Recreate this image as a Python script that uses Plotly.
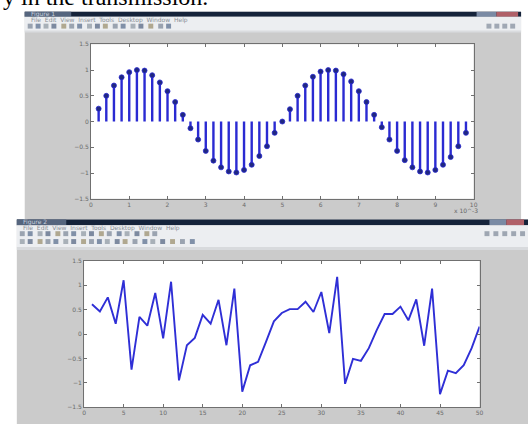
import plotly.graph_objects as go

W, H = 532, 427

# ---- data -------------------------------------------------------------
# sampled sinusoid, time axis in ms (shown with a x10^-3 exponent)
t_ms = [0.2, 0.4, 0.6, 0.8, 1.0, 1.2, 1.4, 1.6, 1.8, 2.0,
        2.2, 2.4, 2.6, 2.8, 3.0, 3.2, 3.4, 3.6, 3.8, 4.0,
        4.2, 4.4, 4.6, 4.8, 5.0, 5.2, 5.4, 5.6, 5.8, 6.0,
        6.2, 6.4, 6.6, 6.8, 7.0, 7.2, 7.4, 7.6, 7.8, 8.0,
        8.2, 8.4, 8.6, 8.8, 9.0, 9.2, 9.4, 9.6, 9.8]
sine_vals = [0.25, 0.50, 0.70, 0.86, 0.96, 1.00, 0.99, 0.90, 0.76, 0.59,
             0.38, 0.13, -0.13, -0.35, -0.57, -0.76, -0.89, -0.97, -0.99, -0.94,
             -0.84, -0.67, -0.48, -0.22, 0.00, 0.24, 0.50, 0.70, 0.87, 0.97,
             1.00, 0.99, 0.92, 0.78, 0.59, 0.38, 0.13, -0.11, -0.35, -0.57,
             -0.75, -0.89, -0.97, -0.99, -0.94, -0.84, -0.69, -0.48, -0.22]

# received / scrambled sequence
rx_index = [1, 2, 3, 4, 5, 6, 7, 8, 9, 10,
            11, 12, 13, 14, 15, 16, 17, 18, 19, 20,
            21, 22, 23, 24, 25, 26, 27, 28, 29, 30,
            31, 32, 33, 34, 35, 36, 37, 38, 39, 40,
            41, 42, 43, 44, 45, 46, 47, 48, 49, 50]
rx_vals = [0.61, 0.46, 0.75, 0.21, 1.10, -0.73, 0.35, 0.17, 0.84, -0.09,
           1.07, -0.95, -0.23, -0.08, 0.39, 0.21, 0.70, -0.23, 0.93, -1.18,
           -0.64, -0.57, -0.16, 0.26, 0.43, 0.51, 0.51, 0.66, 0.45, 0.86,
           0.02, 1.17, -1.02, -0.51, -0.55, -0.29, 0.08, 0.41, 0.41, 0.56,
           0.28, 0.71, -0.24, 0.93, -1.23, -0.75, -0.80, -0.64, -0.29, 0.15]

top_xticks = [0, 1, 2, 3, 4, 5, 6, 7, 8, 9, 10]
top_yticks = [-1.5, -1, -0.5, 0, 0.5, 1, 1.5]
bot_xticks = [0, 5, 10, 15, 20, 25, 30, 35, 40, 45, 50]
bot_yticks = [-1.5, -1, -0.5, 0, 0.5, 1, 1.5]

# ---- helpers: pixel -> paper ------------------------------------------
def px(x):
    return x / W

def py(y):
    return 1 - y / H

def rect(x0, y0, x1, y1, color):
    return dict(type="rect", xref="paper", yref="paper",
                x0=px(x0), x1=px(x1), y0=py(y1), y1=py(y0),
                fillcolor=color, line=dict(width=0), layer="below")

fig = go.Figure()

# stems built from the sample values
stem_x, stem_y = [], []
for t, v in zip(t_ms, sine_vals):
    stem_x += [t, t, None]
    stem_y += [0, v, None]

BLUE = "#2a2ad2"
fig.add_trace(go.Scatter(x=stem_x, y=stem_y, mode="lines",
                         line=dict(color=BLUE, width=2.4),
                         xaxis="x", yaxis="y", hoverinfo="skip"))
fig.add_trace(go.Scatter(x=t_ms, y=sine_vals, mode="markers",
                         marker=dict(color="#202880", size=5,
                                     line=dict(color=BLUE, width=0.8)),
                         xaxis="x", yaxis="y"))

fig.add_trace(go.Scatter(x=rx_index, y=rx_vals, mode="lines",
                         line=dict(color="#2f2fd6", width=1.9),
                         xaxis="x2", yaxis="y2"))

# ---- window chrome ----------------------------------------------------
shapes = []
GRAY = "#cbcbcb"
BAR = "#15233a"
LIGHT = "#eceef1"

# upper figure window
shapes.append(rect(23, 8, 525, 219, GRAY))
shapes.append(rect(23, 8, 525, 13, BAR))
shapes.append(rect(23, 8, 70, 13, "#55657e"))
shapes.append(rect(480, 8, 500, 13, "#7a8aa4"))
shapes.append(rect(500, 8, 522, 13, "#b06068"))
shapes.append(rect(23, 13, 525, 28, LIGHT))
shapes.append(rect(23, 27, 525, 29, "#dadcdf"))

# lower figure window
shapes.append(rect(15, 219, 532, 427, GRAY))
shapes.append(rect(15, 219, 532, 225, BAR))
shapes.append(rect(15, 219, 65, 225, "#55657e"))
shapes.append(rect(493, 219, 510, 225, "#7a8aa4"))
shapes.append(rect(510, 219, 528, 225, "#b06068"))
shapes.append(rect(15, 225, 532, 248, LIGHT))
shapes.append(rect(15, 247, 532, 250, "#d8dadd"))

# toolbar icons (small faint glyph blocks)
icon_cols = ["#9aa3b0", "#8090a8", "#a8b0b8", "#7d8aa0", "#b0a890"]
top_icons = [26, 34, 42, 50, 60, 68, 76, 86, 94, 102, 112, 120, 130, 138, 148, 158, 166]
for i, xi in enumerate(top_icons):
    shapes.append(rect(xi, 20, xi + 5, 25, icon_cols[i % 5]))
for xi in [490, 498, 506, 514]:
    shapes.append(rect(xi, 20, xi + 5, 25, "#a0a8b4"))
bot_icons1 = [18, 26, 36, 44, 54, 62, 70, 80, 88, 98, 106, 116, 124, 134, 144, 152]
for i, xi in enumerate(bot_icons1):
    shapes.append(rect(xi, 231, xi + 5, 236, icon_cols[i % 5]))
bot_icons2 = [18, 26, 36, 44, 52, 62, 70, 80, 88, 96, 104, 114, 122, 132, 142, 150, 160, 170, 180, 190]
for i, xi in enumerate(bot_icons2):
    shapes.append(rect(xi, 239, xi + 5, 244, icon_cols[(i + 2) % 5]))
for xi in [488, 497, 506, 515, 524]:
    shapes.append(rect(xi, 231, xi + 5, 236, "#9ea6b2"))

# white plot areas (exactly the axes domains)
for ax in ["", "2"]:
    shapes.append(dict(type="rect", xref=f"x{ax} domain", yref=f"y{ax} domain",
                       x0=0, x1=1, y0=0, y1=1, fillcolor="white",
                       line=dict(width=0), layer="below"))

small = dict(family="DejaVu Sans", size=6)
annotations = [
    dict(text="y in the transmission.", xref="paper", yref="paper",
         x=px(-1), y=py(8), xanchor="left", yanchor="bottom", showarrow=False,
         font=dict(family="Liberation Serif", size=24, color="black")),
    dict(text="Figure 1", xref="paper", yref="paper", x=px(27), y=py(10.5),
         xanchor="left", yanchor="middle", showarrow=False,
         font=dict(small, color="#c8d0dc")),
    dict(text="File  Edit  View  Insert  Tools  Desktop  Window  Help",
         xref="paper", yref="paper", x=px(27), y=py(16), xanchor="left",
         yanchor="middle", showarrow=False,
         font=dict(small, color="#8a8f96")),
    dict(text="Figure 2", xref="paper", yref="paper", x=px(19), y=py(222),
         xanchor="left", yanchor="middle", showarrow=False,
         font=dict(small, color="#c8d0dc")),
    dict(text="File  Edit  View  Insert  Tools  Desktop  Window  Help",
         xref="paper", yref="paper", x=px(19), y=py(228), xanchor="left",
         yanchor="middle", showarrow=False,
         font=dict(small, color="#8a8f96")),
    dict(text="x 10^-3", xref="paper", yref="paper", x=px(483),
         y=py(210), xanchor="right", yanchor="middle", showarrow=False,
         font=dict(small, color="#666666")),
]

tick_font = dict(family="DejaVu Sans", size=6, color="#6a6a6a")
axis_common = dict(showgrid=False, zeroline=False, showline=True,
                   linecolor="#707070", linewidth=1, mirror="ticks",
                   ticks="inside", ticklen=3, tickcolor="#707070",
                   tickfont=tick_font)

fig.update_layout(
    width=W, height=H,
    margin=dict(l=0, r=0, t=0, b=0),
    paper_bgcolor="white",
    plot_bgcolor="rgba(0,0,0,0)",
    showlegend=False,
    shapes=shapes,
    annotations=annotations,
    xaxis=dict(domain=[px(90), px(477)], range=[0, 10], tickvals=top_xticks,
               anchor="y", **axis_common),
    yaxis=dict(domain=[py(198), py(41)], range=[-1.5, 1.5], tickvals=top_yticks,
               anchor="x", **axis_common),
    xaxis2=dict(domain=[px(83), px(483)], range=[0, 50], tickvals=bot_xticks,
                anchor="y2", **axis_common),
    yaxis2=dict(domain=[py(410), py(261)], range=[-1.5, 1.5], tickvals=bot_yticks,
                anchor="x2", **axis_common),
)

fig.write_html("out.html")
